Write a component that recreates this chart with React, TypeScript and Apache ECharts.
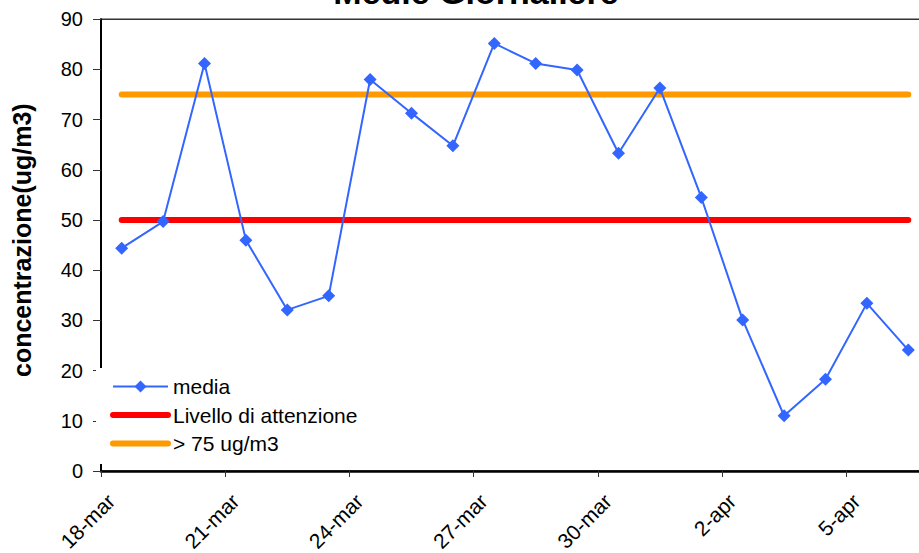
import React, { useEffect, useRef } from "react";
import * as echarts from "echarts";

const categories = [
  "18-mar", "19-mar", "20-mar", "21-mar", "22-mar", "23-mar", "24-mar",
  "25-mar", "26-mar", "27-mar", "28-mar", "29-mar", "30-mar", "31-mar",
  "1-apr", "2-apr", "3-apr", "4-apr", "5-apr", "6-apr",
];
const mediaValues = [
  44.4, 49.7, 81.2, 46.0, 32.1, 34.9, 78.0, 71.3, 64.8, 85.2,
  81.2, 79.9, 63.3, 76.3, 54.5, 30.1, 11.0, 18.3, 33.4, 24.1,
];
const attentionValues = [
  50, 50, 50, 50, 50, 50, 50, 50, 50, 50,
  50, 50, 50, 50, 50, 50, 50, 50, 50, 50,
];
const limitValues = [
  75, 75, 75, 75, 75, 75, 75, 75, 75, 75,
  75, 75, 75, 75, 75, 75, 75, 75, 75, 75,
];
const seriesNames = ["media", "Livello di attenzione", "> 75 ug/m3"];
const titleText = "Medie Giornaliere";
const yAxisName = "concentrazione(ug/m3)";
const yMin = 0;
const yMax = 90;
const yInterval = 10;

const FONT = "Liberation Sans, Arial, sans-serif";

export default function App() {
  const ref = useRef<HTMLDivElement>(null);
  useEffect(() => {
    document.body.style.margin = "0";
    document.body.style.overflow = "hidden";
    if (!ref.current) return;
    const chart = echarts.init(ref.current, null, { renderer: "svg" });
    chart.setOption({
      animation: false,
      backgroundColor: "#ffffff",
      textStyle: { fontFamily: FONT },
      graphic: [
        {
          type: "text",
          x: 476,
          y: -8,
          style: {
            text: titleText,
            fontFamily: FONT,
            fontSize: 34,
            fontWeight: "bold",
            fill: "#000",
            align: "center",
            verticalAlign: "middle",
          },
        },
      ],
      grid: {
        left: 101,
        top: 19.3,
        width: 828,
        height: 451.7,
        outerBoundsMode: "none",
        containLabel: false,
        show: true,
        borderColor: "#333",
        borderWidth: 1.5,
        backgroundColor: "#fff",
      },
      legend: {
        orient: "vertical",
        left: 96,
        top: 368,
        padding: [8, 30, 10, 14],
        backgroundColor: "#ffffff",
        itemWidth: 55,
        itemHeight: 15,
        itemGap: 7.5,
        selectedMode: false,
        textStyle: { fontSize: 21, color: "#000", fontFamily: FONT },
        data: [
          { name: seriesNames[0] },
          { name: seriesNames[1], lineStyle: { width: 6, cap: "round" }, itemStyle: { opacity: 0 } },
          { name: seriesNames[2], lineStyle: { width: 6, cap: "round" }, itemStyle: { opacity: 0 } },
        ],
      },
      xAxis: {
        type: "category",
        data: categories,
        boundaryGap: true,
        axisLine: { lineStyle: { color: "#000", width: 2.5 } },
        axisTick: { show: true, interval: 2, length: 6, lineStyle: { color: "#333", width: 1 } },
        axisLabel: {
          interval: 2,
          rotate: 45,
          fontSize: 21,
          color: "#000",
          margin: 16,
          padding: [0, 15, 11, 0],
          fontFamily: FONT,
        },
        splitLine: { show: false },
      },
      yAxis: {
        type: "value",
        min: yMin,
        max: yMax,
        interval: yInterval,
        name: yAxisName,
        nameLocation: "middle",
        nameGap: 67,
        nameRotate: 90,
        nameTextStyle: {
          fontSize: 25,
          fontWeight: "bold",
          color: "#000",
          fontFamily: FONT,
          padding: [0, 0, 0, 10],
        },
        axisLine: { show: true, lineStyle: { color: "#000", width: 2 } },
        axisTick: { show: true, length: 8, lineStyle: { color: "#333", width: 1 } },
        axisLabel: { fontSize: 20, color: "#000", margin: 18, fontFamily: FONT },
        splitLine: { show: false },
      },
      series: [
        {
          name: seriesNames[1],
          type: "line",
          data: attentionValues,
          symbol: "none",
          lineStyle: { color: "#FF0000", width: 6, cap: "round" },
          itemStyle: { color: "#FF0000" },
          z: 2,
        },
        {
          name: seriesNames[2],
          type: "line",
          data: limitValues,
          symbol: "none",
          lineStyle: { color: "#FF9900", width: 6, cap: "round" },
          itemStyle: { color: "#FF9900" },
          z: 2,
        },
        {
          name: seriesNames[0],
          type: "line",
          data: mediaValues,
          symbol: "diamond",
          symbolSize: 13,
          lineStyle: { color: "#3366FF", width: 2 },
          itemStyle: { color: "#3366FF" },
          z: 3,
        },
      ],
    });
    return () => chart.dispose();
  }, []);
  return (
    <div style={{ width: 919, height: 553, overflow: "hidden", position: "relative" }}>
      <div ref={ref} style={{ width: 945, height: 553 }} />
    </div>
  );
}
